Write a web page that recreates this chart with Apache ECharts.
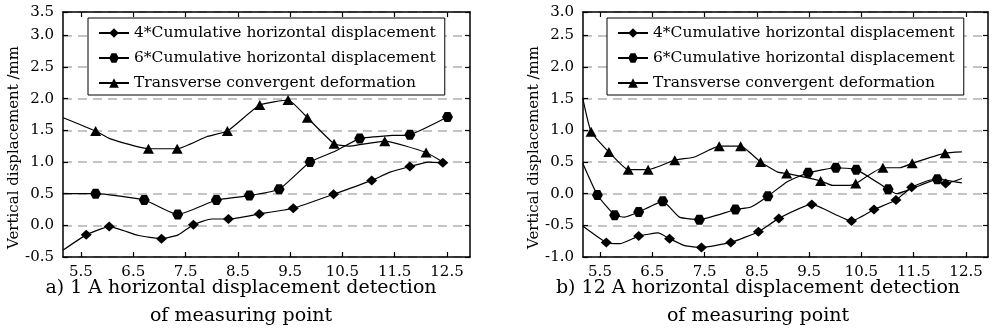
<!DOCTYPE html>
<html>
<head>
<meta charset="utf-8">
<script src="https://cdn.jsdelivr.net/npm/echarts@6/dist/echarts.min.js"></script>
<style>
  html, body { margin: 0; padding: 0; background: #fff; }
  #chart { width: 992px; height: 336px; }
</style>
</head>
<body>
<div id="chart"></div>
<script>
// tick labels on the x axis (both panels)
const xTicks = [5.5, 6.5, 7.5, 8.5, 9.5, 10.5, 11.5, 12.5];
const seriesNames = [
  '4*Cumulative horizontal displacement',
  '6*Cumulative horizontal displacement',
  'Transverse convergent deformation'
];
const yName = 'Vertical displacement /mm';
const captionA = 'a) 1 A horizontal displacement detection\nof measuring point';
const captionB = 'b) 12 A horizontal displacement detection\nof measuring point';

// panel a: [x, y, measured point?]
const a4 = [
  [5.16, -0.39, 0], [5.60, -0.15, 1], [6.04, -0.02, 1], [6.60, -0.16, 0], [7.04, -0.21, 1],
  [7.36, -0.15, 0], [7.65, 0.01, 1], [8.00, 0.10, 0], [8.32, 0.10, 1], [8.91, 0.18, 1],
  [9.56, 0.27, 1], [10.33, 0.49, 1], [11.06, 0.71, 1], [11.41, 0.84, 0], [11.79, 0.93, 1],
  [12.14, 1.00, 0], [12.42, 0.99, 1]
];
const a6 = [
  [5.16, 0.50, 0], [5.78, 0.50, 1], [6.71, 0.40, 1], [7.35, 0.17, 1], [8.09, 0.40, 1],
  [8.72, 0.47, 1], [9.29, 0.57, 1], [9.88, 1.00, 1], [10.36, 1.17, 0], [10.83, 1.37, 1],
  [11.45, 1.42, 0], [11.79, 1.43, 1], [12.51, 1.71, 1]
];
const aT = [
  [5.16, 1.70, 0], [5.78, 1.49, 1], [6.05, 1.37, 0], [6.79, 1.21, 1], [7.34, 1.21, 1],
  [7.90, 1.40, 0], [8.30, 1.49, 1], [8.92, 1.90, 1], [9.46, 1.98, 1], [9.83, 1.70, 1],
  [10.34, 1.29, 1], [10.61, 1.25, 0], [11.31, 1.33, 1], [12.10, 1.15, 1], [12.42, 1.00, 0]
];

// panel b
const b4 = [
  [5.17, -0.51, 0], [5.62, -0.77, 1], [5.88, -0.79, 0], [6.24, -0.67, 1], [6.61, -0.62, 0],
  [6.83, -0.71, 1], [7.12, -0.82, 0], [7.44, -0.85, 1], [8.00, -0.77, 1], [8.53, -0.60, 1],
  [8.92, -0.39, 1], [9.55, -0.17, 1], [10.31, -0.43, 1], [10.74, -0.25, 1], [11.16, -0.10, 1],
  [11.46, 0.10, 1], [11.85, 0.22, 0], [12.11, 0.16, 1], [12.42, 0.24, 0]
];
const b6 = [
  [5.17, 0.48, 0], [5.45, -0.02, 1], [5.78, -0.34, 1], [5.97, -0.37, 0], [6.24, -0.29, 1],
  [6.70, -0.12, 1], [7.02, -0.37, 0], [7.40, -0.41, 1], [8.09, -0.25, 1], [8.39, -0.21, 0],
  [8.71, -0.04, 1], [9.08, 0.19, 0], [9.48, 0.33, 1], [10.01, 0.41, 1], [10.40, 0.38, 1],
  [11.01, 0.07, 1], [11.17, 0.00, 0], [11.62, 0.13, 0], [11.95, 0.23, 1], [12.42, 0.17, 0]
];
const bT = [
  [5.17, 1.51, 0], [5.33, 0.98, 1], [5.67, 0.66, 1], [6.04, 0.38, 1], [6.42, 0.38, 1],
  [6.93, 0.53, 1], [7.31, 0.58, 0], [7.78, 0.75, 1], [8.19, 0.75, 1], [8.57, 0.50, 1],
  [8.90, 0.34, 0], [9.07, 0.32, 1], [9.72, 0.20, 1], [9.95, 0.13, 0], [10.28, 0.13, 0],
  [10.39, 0.16, 1], [10.91, 0.41, 1], [11.24, 0.41, 0], [11.47, 0.48, 1], [12.10, 0.64, 1],
  [12.42, 0.66, 0]
];

const font = 'DejaVu Serif';
const hexagon = 'path://M-1,0L-0.5,-0.866L0.5,-0.866L1,0L0.5,0.866L-0.5,0.866Z';
const symbols = ['diamond', hexagon, 'triangle'];
const symbolSizes = [[11, 10], [11, 10], [11, 10]];

// panel extents (x edges sit a little outside the first/last tick)
const panels = [
  {left: 63, width: 407, xMin: 5.156, xMax: 12.94, yMin: -0.5, yMax: 3.37, yTop: '3.5', lines: [a4, a6, aT], caption: captionA, cx: 241, legendLeft: 88},
  {left: 583, width: 405, xMin: 5.175, xMax: 12.92, yMin: -1, yMax: 2.87, yTop: '3.0', lines: [b4, b6, bT], caption: captionB, cx: 758, legendLeft: 607}
];

function toData(pts) {
  return pts.map((p) => (p[2] ? [p[0], p[1]] : {value: [p[0], p[1]], symbol: 'none'}));
}

const axisLine = {show: true, onZero: false, lineStyle: {color: '#000', width: 1.5}};
const innerTick = {show: true, inside: true, length: 5, lineStyle: {color: '#000', width: 1.2}};

const grid = [], xAxis = [], yAxis = [], series = [], legend = [], title = [];

panels.forEach((p, i) => {
  grid.push({left: p.left, width: p.width, top: 12, height: 245});

  xAxis.push({
    type: 'value', gridIndex: i, position: 'bottom', min: p.xMin, max: p.xMax,
    axisLine, splitLine: {show: false},
    axisTick: Object.assign({}, innerTick, {customValues: xTicks}),
    axisLabel: {customValues: xTicks, margin: 8, color: '#000', fontFamily: font, fontSize: 15,
      formatter: (v) => v.toFixed(1)}
  });
  xAxis.push({
    type: 'value', gridIndex: i, position: 'top', min: p.xMin, max: p.xMax,
    axisLine, splitLine: {show: false}, axisLabel: {show: false},
    axisTick: Object.assign({}, innerTick, {customValues: xTicks})
  });

  yAxis.push({
    type: 'value', gridIndex: i, position: 'left', min: p.yMin, max: p.yMax, interval: 0.5,
    name: yName, nameLocation: 'middle', nameGap: 40, nameRotate: 90,
    nameTextStyle: {fontFamily: font, fontSize: 15, color: '#000', padding: [0, 26, 0, 0]},
    axisLine, axisTick: innerTick,
    axisLabel: {margin: 9, color: '#000', fontFamily: font, fontSize: 15,
      formatter: (v) => (v > p.yMax - 0.1 ? p.yTop : v.toFixed(1))},
    splitLine: {show: true, lineStyle: {color: '#c4c4c4', width: 2, type: [9, 6]}}
  });
  yAxis.push({
    type: 'value', gridIndex: i, position: 'right', min: p.yMin, max: p.yMax, interval: 0.5,
    axisLine, axisTick: innerTick, axisLabel: {show: false}, splitLine: {show: false}
  });

  p.lines.forEach((pts, k) => {
    series.push({
      name: seriesNames[k], type: 'line', xAxisIndex: i * 2, yAxisIndex: i * 2,
      data: toData(pts), smooth: 0.15, symbol: symbols[k], symbolSize: symbolSizes[k],
      showAllSymbol: true, lineStyle: {color: '#000', width: 1.2}, itemStyle: {color: '#000'},
      emphasis: {disabled: true}
    });
  });

  legend.push({
    left: p.legendLeft, top: 18, orient: 'vertical', data: seriesNames, selectedMode: false,
    backgroundColor: '#fff', borderColor: '#000', borderWidth: 1,
    padding: [5, 9, 2, 10], itemGap: 5, itemWidth: 30, itemHeight: 12,
    textStyle: {fontFamily: font, fontSize: 15.5, color: '#000', lineHeight: 20}
  });

  title.push({
    text: p.caption, left: p.cx, top: 274, textAlign: 'center', padding: 0,
    textStyle: {fontFamily: font, fontSize: 19, fontWeight: 'normal', color: '#000', lineHeight: 28}
  });
});

const chart = echarts.init(document.getElementById('chart'));
chart.setOption({
  animation: false,
  backgroundColor: '#fff',
  title, legend, grid, xAxis, yAxis, series
});
</script>
</body>
</html>
